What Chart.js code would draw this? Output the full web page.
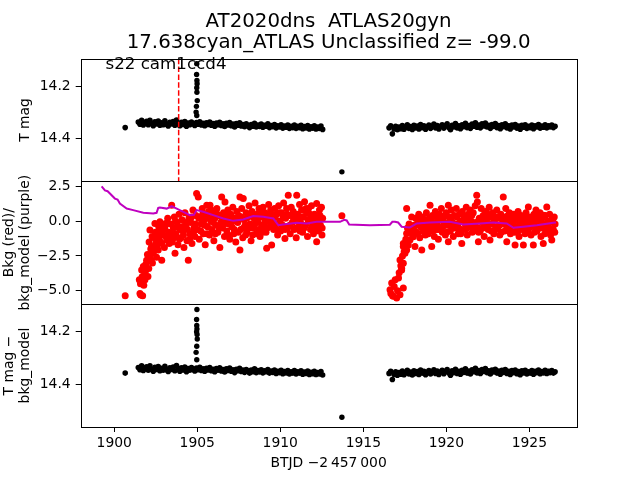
<!DOCTYPE html>
<html>
<head>
<meta charset="utf-8">
<script src="https://cdn.jsdelivr.net/npm/chart.js@4.4.0/dist/chart.umd.min.js"></script>
<style>
  html, body { margin: 0; padding: 0; background: #fff; }
  #wrap { position: relative; width: 640px; height: 480px; }
  #wrap canvas { position: absolute; left: 0; top: 0; }
</style>
</head>
<body>
<div id="wrap">
  <canvas id="c_mag" width="640" height="480"></canvas>
  <canvas id="c_bkg" width="640" height="480"></canvas>
  <canvas id="c_sub" width="640" height="480"></canvas>
</div>
<script>
// ---- labels / axes ----
const titleLines  = ['AT2020dns  ATLAS20gyn', '17.638cyan_ATLAS Unclassified z= -99.0'];
const sectorLabel = 's22 cam1ccd4';
const sectorPos   = [1899.47, 14.134];
const xLabel      = 'BTJD \u22122\u2009457\u2009000';
const xTicks      = [1900, 1905, 1910, 1915, 1920, 1925];
const xRange      = [1897.98, 1927.84];
const magTicks    = [14.2, 14.4];
const magRange    = [14.094, 14.562];
const bkgTicks    = [2.5, 0, -2.5, -5];
const bkgRange    = [-5.95, 2.86];
const discoveryTime = 1903.88;

// ---- T mag, orbit 1 and 2 [time, mag] ----
const magOrbit1 = [
  [1900.66,14.357],
  [1901.45,14.336],[1901.55,14.344],[1901.65,14.329],[1901.75,14.347],[1901.85,14.338],[1901.95,14.333],
  [1902.05,14.346],[1902.15,14.329],[1902.25,14.342],[1902.35,14.350],[1902.45,14.335],[1902.55,14.343],
  [1902.65,14.332],[1902.75,14.348],[1902.85,14.339],[1902.95,14.346],[1903.05,14.331],[1903.15,14.344],
  [1903.25,14.351],[1903.35,14.337],[1903.45,14.343],[1903.55,14.334],[1903.65,14.348],[1903.75,14.328],
  [1903.85,14.342],[1903.95,14.350],[1904.05,14.337],[1904.15,14.345],[1904.25,14.334],[1904.35,14.352],
  [1904.45,14.340],[1904.55,14.346],[1904.65,14.336],[1904.75,14.343],[1904.85,14.349],[1904.95,14.338],
  [1905.05,14.344],[1905.15,14.335],[1905.25,14.347],[1905.35,14.341],[1905.45,14.350],[1905.55,14.339],
  [1905.65,14.345],[1905.75,14.336],[1905.85,14.348],[1905.95,14.342],[1906.05,14.352],[1906.15,14.340],
  [1906.25,14.346],[1906.35,14.337],[1906.45,14.349],[1906.55,14.343],[1906.65,14.353],[1906.75,14.341],
  [1906.85,14.347],[1906.95,14.338],[1907.05,14.350],[1907.15,14.344],[1907.25,14.355],[1907.35,14.342],
  [1907.45,14.348],[1907.55,14.339],[1907.65,14.351],[1907.75,14.345],[1907.85,14.354],[1907.95,14.343],
  [1908.05,14.349],[1908.15,14.357],[1908.25,14.345],[1908.35,14.352],[1908.45,14.341],[1908.55,14.355],
  [1908.65,14.347],[1908.75,14.353],[1908.85,14.344],[1908.95,14.356],[1909.05,14.348],[1909.15,14.352],
  [1909.25,14.343],[1909.35,14.357],[1909.45,14.349],[1909.55,14.354],[1909.65,14.345],[1909.75,14.358],
  [1909.85,14.350],[1909.95,14.355],[1910.05,14.346],[1910.15,14.359],[1910.25,14.351],[1910.35,14.356],
  [1910.45,14.347],[1910.55,14.360],[1910.65,14.352],[1910.75,14.357],[1910.85,14.347],[1910.95,14.360],
  [1911.05,14.352],[1911.15,14.357],[1911.25,14.348],[1911.35,14.361],[1911.45,14.353],[1911.55,14.358],
  [1911.65,14.349],[1911.75,14.362],[1911.85,14.354],[1911.95,14.359],[1912.05,14.350],[1912.15,14.362],
  [1912.25,14.355],[1912.35,14.360],[1912.45,14.351],[1912.55,14.364]
];
const magOrbit2 = [
  [1916.55,14.358],[1916.65,14.350],[1916.75,14.381],[1916.85,14.362],[1916.95,14.352],[1917.05,14.365],
  [1917.15,14.355],[1917.25,14.361],[1917.35,14.349],[1917.45,14.363],[1917.55,14.356],[1917.65,14.346],
  [1917.75,14.360],[1917.85,14.353],[1917.95,14.364],[1918.05,14.348],[1918.15,14.358],[1918.25,14.351],
  [1918.35,14.362],[1918.45,14.345],[1918.55,14.357],[1918.65,14.350],[1918.75,14.363],[1918.85,14.354],
  [1918.95,14.347],[1919.05,14.360],[1919.15,14.352],[1919.25,14.344],[1919.35,14.358],[1919.45,14.349],
  [1919.55,14.362],[1919.65,14.353],[1919.75,14.346],[1919.85,14.359],[1919.95,14.350],[1920.05,14.343],
  [1920.15,14.357],[1920.25,14.365],[1920.35,14.348],[1920.45,14.355],[1920.55,14.342],[1920.65,14.358],
  [1920.75,14.350],[1920.85,14.361],[1920.95,14.346],[1921.05,14.354],[1921.15,14.341],[1921.25,14.357],
  [1921.35,14.349],[1921.45,14.360],[1921.55,14.344],[1921.65,14.352],[1921.75,14.339],[1921.85,14.356],
  [1921.95,14.347],[1922.05,14.358],[1922.15,14.343],[1922.25,14.351],[1922.35,14.340],[1922.45,14.355],
  [1922.55,14.348],[1922.65,14.360],[1922.75,14.345],[1922.85,14.353],[1922.95,14.342],[1923.05,14.357],
  [1923.15,14.349],[1923.25,14.361],[1923.35,14.346],[1923.45,14.354],[1923.55,14.343],[1923.65,14.358],
  [1923.75,14.350],[1923.85,14.362],[1923.95,14.347],[1924.05,14.355],[1924.15,14.345],[1924.25,14.359],
  [1924.35,14.351],[1924.45,14.363],[1924.55,14.348],[1924.65,14.356],[1924.75,14.346],[1924.85,14.360],
  [1924.95,14.352],[1925.05,14.357],[1925.15,14.347],[1925.25,14.361],[1925.35,14.350],[1925.45,14.355],
  [1925.55,14.345],[1925.65,14.359],[1925.75,14.351],[1925.85,14.356],[1925.95,14.346],[1926.05,14.358],
  [1926.15,14.350],[1926.25,14.355],[1926.35,14.347],[1926.45,14.357],[1926.55,14.352]
];
const magSpike = [[1904.97,14.113],[1904.96,14.154],[1904.98,14.177],[1904.99,14.190],[1904.97,14.205],
  [1904.98,14.222],[1905.00,14.254],[1904.95,14.276],[1904.93,14.298],[1904.97,14.311]];
const subSpike = [[1904.98,14.115],[1904.96,14.153],[1904.97,14.176],[1904.98,14.189],[1904.96,14.200],
  [1904.99,14.210],[1905.00,14.227],[1904.97,14.255],[1904.93,14.278],[1904.97,14.306]];
// lone point in the orbit gap: [time, mag, error]
const magGap = [1913.71, 14.526, 0.007];
const subGap = [1913.71, 14.525, 0.007];

// ---- background (red) [time, value] ----
const bkgOrbit1 = [
  [1900.66,-5.36],
  [1901.51,-4.2],[1901.55,-5.2],[1901.58,-4.5],[1901.60,-5.3],[1901.65,-3.5],[1901.68,-4.0],[1901.71,-5.36],
  [1901.75,-3.26],[1901.78,-4.6],[1901.80,-3.9],[1901.85,-4.2],[1901.88,-3.6],[1901.90,-3.1],[1901.95,-2.8],
  [1902.00,-2.4],[1902.03,-3.98],[1902.08,-3.4],[1902.10,-1.5],[1902.15,-2.55],[1902.15,-0.64],[1902.20,-2.0],
  [1902.22,-2.8],[1902.25,-1.83],[1902.28,-1.1],[1902.30,-3.0],[1902.35,-2.3],[1902.38,-2.0],[1902.40,-1.2],
  [1902.45,-0.17],[1902.48,-0.8],[1902.50,-1.6],[1902.55,-2.6],[1902.58,-1.9],[1902.60,-0.9],[1902.65,-2.07],
  [1902.68,-0.4],[1902.70,-1.3],[1902.75,-0.05],[1902.78,-1.5],[1902.80,-0.6],[1902.86,-2.8],[1902.86,-1.6],
  [1902.90,-0.2],[1902.92,-1.0],[1902.96,-0.4],
  [1903.02,-1.9],[1903.08,-0.3],[1903.12,-1.1],[1903.16,-1.36],[1903.22,0.2],[1903.28,-0.8],[1903.35,-1.12],
  [1903.40,-0.2],[1903.46,1.14],[1903.50,-1.5],[1903.56,-0.5],[1903.62,0.3],[1903.66,-2.3],[1903.72,-0.9],
  [1903.78,-0.1],[1903.84,-1.7],[1903.90,0.5],[1903.95,-0.6],
  [1904.02,-1.2],[1904.08,0.1],[1904.14,-0.7],[1904.20,-1.9],[1904.26,0.6],[1904.32,-0.3],[1904.38,-1.4],
  [1904.46,-2.8],[1904.50,0.2],[1904.56,-0.9],[1904.62,-0.1],[1904.68,-1.6],[1904.74,0.8],[1904.80,-0.5],
  [1904.86,-1.1],[1904.92,0.4],[1904.96,1.98],
  [1905.02,-0.6],[1905.06,1.74],[1905.12,-1.3],[1905.18,0.3],[1905.24,-0.2],[1905.30,0.9],[1905.36,-0.9],
  [1905.42,0.1],[1905.48,-1.7],[1905.52,0.5],[1905.57,1.14],[1905.62,-0.4],[1905.68,0.7],[1905.74,-1.0],
  [1905.77,1.14],[1905.82,0.0],[1905.88,-0.6],[1905.94,0.6],
  [1906.00,-1.4],[1906.06,0.2],[1906.12,-0.3],[1906.18,0.9],[1906.24,-0.8],[1906.30,0.4],[1906.36,-1.9],
  [1906.42,-0.1],[1906.47,1.74],[1906.52,-0.5],[1906.58,0.6],[1906.64,-1.1],[1906.67,1.38],[1906.72,0.1],
  [1906.78,-0.7],[1906.84,0.8],[1906.90,-0.2],[1906.96,-1.3],
  [1907.02,0.5],[1907.08,-0.4],[1907.14,1.0],[1907.20,-0.9],[1907.26,0.2],[1907.32,-1.5],[1907.38,0.7],
  [1907.44,-0.1],[1907.50,0.4],[1907.57,1.74],[1907.57,-2.07],[1907.62,-0.6],[1907.68,0.9],[1907.74,-1.2],
  [1907.77,1.62],[1907.82,0.1],[1907.88,-0.3],[1907.94,0.6],
  [1908.00,-0.8],[1908.06,0.3],[1908.12,1.1],[1908.18,-0.2],[1908.24,-1.4],[1908.30,0.7],[1908.36,-0.5],
  [1908.42,0.2],[1908.48,1.3],[1908.54,-0.9],[1908.60,0.5],[1908.66,-0.1],[1908.72,0.9],[1908.78,-1.1],
  [1908.84,0.3],[1908.90,-0.4],[1908.96,1.0],
  [1909.02,-0.2],[1909.08,0.6],[1909.14,-0.8],[1909.18,-1.95],[1909.24,0.4],[1909.30,1.2],[1909.36,-0.4],
  [1909.42,0.8],[1909.48,-1.71],[1909.54,0.1],[1909.60,-0.6],[1909.66,0.9],[1909.72,-0.2],[1909.78,0.5],
  [1909.84,-1.0],[1909.90,1.1],[1909.96,0.0],
  [1910.02,-0.7],[1910.08,0.6],[1910.14,-0.3],[1910.20,1.3],[1910.28,-1.24],[1910.32,0.2],[1910.38,0.9],
  [1910.44,-0.5],[1910.48,1.86],[1910.54,0.4],[1910.60,-0.9],[1910.66,1.0],[1910.72,-0.1],[1910.78,0.7],
  [1910.84,-0.6],[1910.90,0.3],[1910.96,-1.2],[1910.99,1.86],
  [1911.04,0.5],[1911.10,-0.4],[1911.16,1.2],[1911.22,-0.1],[1911.28,0.8],[1911.34,-0.8],[1911.40,0.3],
  [1911.46,1.4],[1911.52,-0.3],[1911.58,0.6],[1911.64,-1.1],[1911.70,0.9],[1911.76,0.0],[1911.82,-0.6],
  [1911.88,1.1],[1911.94,0.2],
  [1912.00,-0.9],[1912.06,0.5],[1912.12,-0.2],[1912.19,1.26],[1912.19,-1.48],[1912.24,0.3],[1912.30,-0.7],
  [1912.36,0.8],[1912.42,-0.3],[1912.48,1.0],[1912.52,-0.5],[1912.55,0.2],
  // denser core of orbit 1
  [1903.05,-0.6],[1903.18,-0.1],[1903.31,-1.6],[1903.44,-0.9],[1903.59,-1.2],[1903.69,0.0],[1903.81,-0.4],
  [1903.93,-1.3],[1904.05,-0.4],[1904.17,-1.0],[1904.29,-0.1],[1904.41,-0.6],[1904.53,-1.3],[1904.65,0.3],
  [1904.77,-0.8],[1904.89,-0.2],[1905.09,0.2],[1905.21,-0.7],[1905.33,0.5],[1905.45,-0.3],[1905.59,-0.9],
  [1905.71,0.2],[1905.85,0.8],[1905.97,-0.1],[1906.09,-0.9],[1906.21,0.5],[1906.33,-0.5],[1906.45,0.3],
  [1906.61,-0.2],[1906.75,0.5],[1906.87,-1.0],[1906.99,0.3],[1907.11,0.0],[1907.23,-0.6],[1907.35,0.1],
  [1907.47,-0.8],[1907.65,0.3],[1907.79,-0.5],[1907.91,-1.0],[1907.97,0.2],[1908.09,-0.5],[1908.21,0.5],
  [1908.33,-1.0],[1908.45,-0.2],[1908.57,0.1],[1908.69,-0.6],[1908.81,0.6],[1908.93,-0.8],[1909.05,0.2],
  [1909.21,-0.5],[1909.33,0.0],[1909.45,0.5],[1909.57,-0.3],[1909.69,0.3],[1909.81,-0.6],[1909.93,0.6],
  [1910.05,-0.2],[1910.17,0.3],[1910.29,-0.6],[1910.41,0.5],[1910.57,-0.3],[1910.69,0.4],[1910.81,0.1],
  [1910.93,-0.5],[1911.07,0.1],[1911.19,-0.7],[1911.31,0.3],[1911.43,-0.5],[1911.55,0.9],[1911.67,0.1],
  [1911.79,0.5],[1911.91,-0.4],[1912.03,0.2],[1912.15,-0.6],[1912.27,-0.1],[1912.39,0.4],[1912.51,-1.0]
];
const bkgGap = [[1913.71,0.38]];
const bkgOrbit2 = [
  [1916.61,-4.93],[1916.66,-5.2],[1916.71,-4.45],[1916.76,-5.35],[1916.81,-5.4],[1916.86,-4.7],[1916.92,-4.21],
  [1917.01,-5.52],[1917.06,-5.0],[1917.12,-4.09],[1917.16,-3.7],[1917.21,-5.29],[1917.21,-2.79],[1917.26,-3.2],
  [1917.31,-3.38],[1917.31,-3.5],[1917.36,-2.5],[1917.41,-3.02],[1917.41,-4.81],[1917.41,-1.83],[1917.46,-2.2],
  [1917.51,-2.31],[1917.41,-1.6],[1917.56,-1.3],[1917.61,-2.07],[1917.61,-0.88],[1917.61,0.9],[1917.66,-0.5],
  [1917.71,-1.71],[1917.76,-0.2],[1917.81,-1.36],[1917.86,-0.7],[1917.91,0.3],[1917.96,-1.0],[1918.01,-1.12],
  [1918.06,-0.3],[1918.11,-1.83],[1918.16,0.2],[1918.22,-0.8],[1918.28,-0.1],[1918.34,0.5],[1918.40,-1.2],
  [1918.46,-0.4],[1918.52,-2.07],[1918.56,0.3],[1918.62,-0.7],[1918.68,0.1],[1918.74,-1.0],[1918.80,0.6],
  [1918.86,-0.3],[1918.92,-0.9],[1918.98,0.2],
  [1919.02,1.14],[1919.06,-0.5],[1919.12,-1.83],[1919.16,0.4],[1919.22,-0.2],[1919.28,-1.1],[1919.34,0.7],
  [1919.40,-0.6],[1919.46,0.0],[1919.52,-1.3],[1919.58,0.5],[1919.64,-0.4],[1919.70,0.9],[1919.76,-0.8],
  [1919.82,0.2],[1919.88,-0.2],[1919.94,-1.0],
  [1920.00,0.6],[1920.06,-0.3],[1920.12,1.14],[1920.12,-1.48],[1920.18,0.3],[1920.24,-0.7],[1920.30,0.8],
  [1920.36,-0.1],[1920.42,-1.1],[1920.48,0.4],[1920.54,-0.5],[1920.60,0.9],[1920.66,-0.2],[1920.72,-0.9],
  [1920.78,0.5],[1920.84,0.0],[1920.93,-1.6],[1920.96,0.7],
  [1921.02,-0.6],[1921.08,0.3],[1921.14,-0.2],[1921.20,1.0],[1921.26,-1.0],[1921.32,0.5],[1921.38,-0.4],
  [1921.44,0.8],[1921.50,0.0],[1921.56,-0.8],[1921.62,0.6],[1921.68,-0.3],[1921.74,1.1],[1921.83,1.86],
  [1921.87,1.38],[1921.90,-0.5],[1921.93,-1.48],[1921.98,0.2],
  [1922.04,-0.7],[1922.10,0.9],[1922.16,-0.1],[1922.22,0.4],[1922.28,-1.1],[1922.34,0.7],[1922.40,-0.3],
  [1922.46,0.2],[1922.52,-0.6],[1922.58,1.0],[1922.63,-1.36],[1922.68,0.3],[1922.74,-0.2],[1922.80,0.6],
  [1922.86,-0.9],[1922.92,0.1],[1922.98,-0.4],
  [1923.04,0.8],[1923.10,-0.5],[1923.16,0.2],[1923.22,-1.0],[1923.28,0.5],[1923.34,-0.2],[1923.43,1.74],
  [1923.46,0.3],[1923.52,-0.7],[1923.58,0.9],[1923.64,-1.48],[1923.68,0.0],[1923.74,-0.4],[1923.80,0.6],
  [1923.86,-0.9],[1923.92,0.2],[1923.98,-0.3],
  [1924.04,0.5],[1924.10,-0.8],[1924.14,-1.71],[1924.20,0.1],[1924.26,-0.4],[1924.32,0.7],[1924.38,-1.1],
  [1924.44,-0.1],[1924.50,0.4],[1924.56,-0.6],[1924.64,-1.71],[1924.68,0.2],[1924.74,-0.9],[1924.80,0.6],
  [1924.86,-0.3],[1924.94,1.02],[1924.98,-0.5],
  [1925.04,0.3],[1925.10,-1.0],[1925.16,0.0],[1925.24,-1.71],[1925.28,0.5],[1925.34,-0.4],[1925.40,0.8],
  [1925.46,-0.7],[1925.52,0.1],[1925.58,-0.2],[1925.64,0.6],[1925.70,-1.1],[1925.76,0.2],[1925.84,0.43],
  [1925.84,-1.6],[1925.90,-0.5],[1925.96,0.4],
  [1926.02,-0.8],[1926.05,1.02],[1926.10,0.0],[1926.16,-0.4],[1926.22,0.5],[1926.28,-1.0],[1926.35,-1.36],
  [1926.38,0.2],[1926.44,-0.6],[1926.50,0.3],[1926.55,-0.2],
  // denser core of orbit 2
  [1918.03,-0.6],[1918.19,-0.3],[1918.31,-0.9],[1918.43,0.0],[1918.59,-0.4],[1918.71,-0.8],[1918.83,0.1],
  [1918.95,-0.5],[1919.09,0.1],[1919.19,-0.7],[1919.31,-0.3],[1919.43,0.3],[1919.55,-0.6],[1919.67,0.1],
  [1919.79,-0.4],[1919.91,0.4],[1920.03,-0.8],[1920.15,-0.1],[1920.27,0.1],[1920.39,-0.5],[1920.51,-0.2],
  [1920.63,0.3],[1920.75,-0.5],[1920.87,-0.9],[1921.05,0.0],[1921.17,-0.6],[1921.29,0.2],[1921.41,-0.2],
  [1921.53,0.4],[1921.65,-0.7],[1921.77,-0.1],[1921.95,-0.8],[1922.07,0.2],[1922.19,-0.5],[1922.31,-0.2],
  [1922.43,0.6],[1922.55,-0.2],[1922.71,-0.7],[1922.83,0.2],[1922.95,-0.6],[1923.07,0.3],[1923.19,-0.3],
  [1923.31,-0.8],[1923.49,0.0],[1923.61,-0.3],[1923.71,0.4],[1923.83,-0.5],[1923.95,0.1],[1924.07,-0.3],
  [1924.17,0.3],[1924.29,-0.8],[1924.41,0.3],[1924.53,-0.2],[1924.71,-0.4],[1924.83,0.0],[1924.91,-0.8],
  [1925.07,-0.4],[1925.19,0.3],[1925.31,-0.8],[1925.43,-0.2],[1925.55,0.4],[1925.67,-0.5],[1925.79,-0.2],
  [1925.93,-0.9],[1926.07,-0.4],[1926.19,-0.1],[1926.31,-0.6],[1926.41,0.0],[1926.53,-0.8]
];

// ---- background model (purple) [time, value] ----
const bkgModel = [
  [1899.24,2.5],[1899.44,2.2],[1899.60,2.15],[1899.74,1.98],[1900.04,1.62],[1900.20,1.55],[1900.34,1.26],
  [1900.75,0.9],[1901.14,0.79],[1901.75,0.6],[1902.35,0.55],[1902.55,0.6],[1902.65,0.95],[1902.75,0.98],
  [1903.16,0.9],[1903.46,1.07],[1903.76,0.9],[1904.16,0.67],[1904.56,0.43],[1904.80,0.45],[1904.96,0.79],
  [1905.36,0.67],[1905.96,0.43],[1906.57,0.19],[1907.17,0.02],[1907.77,0.12],[1908.37,0.36],[1908.98,0.31],
  [1909.58,0.19],[1909.88,-0.29],[1910.39,-0.21],[1910.99,-0.12],[1911.59,-0.17],[1912.19,-0.05],
  [1912.99,-0.05],[1913.60,-0.05],[1913.85,0.1],[1914.00,0.05],[1914.15,-0.25],[1915.40,-0.29],
  [1916.60,-0.26],[1916.75,-0.05],[1916.91,-0.05],[1917.10,-0.1],[1917.31,-0.4],[1917.81,-0.45],
  [1918.22,-0.17],[1919.02,-0.1],[1920.22,-0.05],[1921.02,-0.24],[1922.03,-0.17],[1922.83,-0.1],
  [1923.64,-0.17],[1924.04,-0.48],[1924.64,-0.4],[1925.45,-0.29],[1926.45,-0.12],[1926.60,-0.1]
];

// ---- helpers ----
Chart.defaults.font.family = 'DejaVu Sans';
Chart.defaults.color = '#000';
const FONT = { family: 'DejaVu Sans', size: 13.9, lineHeight: 1.2 };
const pts = a => a.map(p => ({ x: p[0], y: p[1] }));
const fmt = v => v.toFixed(1).replace('-', '\u2212');

// axes box, snapped so that neighbouring panels share one line
const frame = {
  id: 'frame',
  afterDraw(chart) {
    const { ctx, chartArea: a } = chart;
    const l = Math.round(a.left) + 0.5, r = Math.round(a.right) + 0.5;
    const t = Math.round(a.top) + 0.5, b = Math.round(a.bottom) + 0.5;
    ctx.save();
    ctx.strokeStyle = '#000';
    ctx.lineWidth = 1;
    ctx.strokeRect(l, t, r - l, b - t);
    ctx.restore();
  }
};

const sectorText = {
  id: 'sectorText',
  afterDatasetsDraw(chart) {
    const { ctx, scales: { x, y } } = chart;
    ctx.save();
    ctx.font = '16.7px "DejaVu Sans"';
    ctx.fillStyle = '#000';
    ctx.textBaseline = 'alphabetic';
    ctx.fillText(sectorLabel, x.getPixelForValue(sectorPos[0]), y.getPixelForValue(sectorPos[1]));
    ctx.restore();
  }
};

const dots = (data, color, r) => ({
  data: pts(data), backgroundColor: color, borderWidth: 0, pointRadius: r, pointHoverRadius: r
});
const vline = (t, lo, hi, color, dash) => ({
  data: [{ x: t, y: lo }, { x: t, y: hi }], showLine: true, borderColor: color,
  borderWidth: 1.5, borderDash: dash || [], pointRadius: 0
});

function panel(id, o) {
  return new Chart(document.getElementById(id), {
    type: 'scatter',
    data: { datasets: o.datasets },
    options: {
      responsive: false, animation: false, events: [],
      layout: { padding: { top: o.top, bottom: o.bottom, left: 0, right: 63.5 } },
      plugins: {
        legend: { display: false },
        tooltip: { enabled: false },
        title: o.title || { display: false }
      },
      scales: {
        x: {
          type: 'linear', display: !!o.xAxis, min: xRange[0], max: xRange[1],
          afterFit: s => { s.height = o.xAxis ? 53 : 0; },
          afterBuildTicks: s => { s.ticks = xTicks.map(v => ({ value: v })); },
          ticks: { callback: v => String(v), font: FONT, color: '#000', padding: 3, maxRotation: 0, autoSkip: false },
          grid: { drawOnChartArea: false, tickLength: 5, color: '#000' },
          border: { display: false },
          title: { display: true, text: xLabel, font: FONT, color: '#000', padding: { top: 0, bottom: 8.6 } }
        },
        y: {
          type: 'linear', min: o.range[0], max: o.range[1], reverse: !!o.reverse,
          afterFit: s => { s.width = 80.7; },
          afterBuildTicks: s => { s.ticks = o.ticks.map(v => ({ value: v })); },
          ticks: { callback: v => fmt(v), font: FONT, color: '#000', padding: 5 },
          grid: { drawOnChartArea: false, tickLength: 5, color: '#000' },
          border: { display: false },
          title: { display: true, text: o.label, font: FONT, color: '#000', padding: { top: o.labelPad, bottom: 0 } }
        }
      }
    },
    plugins: [frame].concat(o.plugins || [])
  });
}

// top: T mag
panel('c_mag', {
  top: 0, bottom: 480 - 181.3, range: magRange, ticks: magTicks, reverse: true,
  label: 'T mag', labelPad: 17.2,
  title: {
    display: true, text: titleLines, fullSize: false, color: '#000',
    font: { family: 'DejaVu Sans', size: 19.8, weight: 'normal', lineHeight: 1.1 },
    padding: { top: 10.5, bottom: 4.6 }
  },
  plugins: [sectorText],
  datasets: [
    vline(discoveryTime, magRange[0], magRange[1], '#ff0000', [5.5, 2.4]),
    vline(magGap[0], magGap[1] - magGap[2], magGap[1] + magGap[2], '#000'),
    dots([magGap], '#000', 2.7),
    dots(magSpike, '#000', 2.7),
    dots(magOrbit1, '#000', 2.8),
    dots(magOrbit2, '#000', 2.8)
  ]
});

// middle: background
panel('c_bkg', {
  top: 181.3, bottom: 480 - 304, range: bkgRange, ticks: bkgTicks,
  label: ['Bkg (red)/', 'bkg_model (purple)'], labelPad: 0.7,
  datasets: [
    Object.assign(vline(0, 0, 0, '#bf00bf'), { data: pts(bkgModel), borderWidth: 2 }),
    dots(bkgGap, '#ff0000', 3.5),
    dots(bkgOrbit1, '#ff0000', 3.5),
    dots(bkgOrbit2, '#ff0000', 3.5)
  ]
});

// bottom: T mag - bkg_model
panel('c_sub', {
  top: 304, bottom: 0, range: magRange, ticks: magTicks, reverse: true, xAxis: true,
  label: ['T mag \u2212', 'bkg_model'], labelPad: 0.7,
  datasets: [
    vline(subGap[0], subGap[1] - subGap[2], subGap[1] + subGap[2], '#000'),
    dots([subGap], '#000', 2.7),
    dots(subSpike, '#000', 2.7),
    dots(magOrbit1, '#000', 2.8),
    dots(magOrbit2, '#000', 2.8)
  ]
});
</script>
</body>
</html>
